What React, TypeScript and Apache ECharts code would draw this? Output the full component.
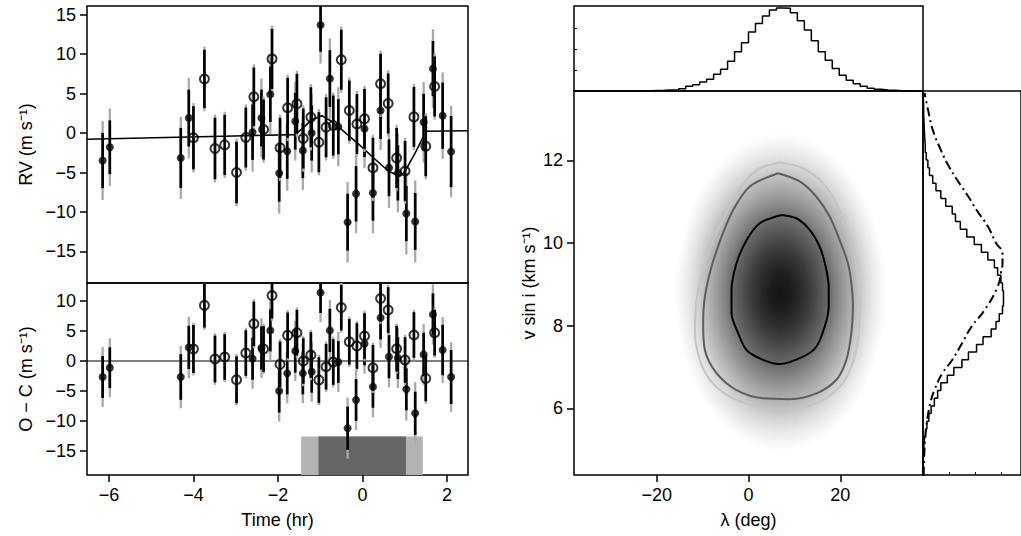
import React, { useEffect, useRef } from "react";
import * as echarts from "echarts";

// ---------- Left panels: RV time series ----------
const filledTime = [-6.15, -5.98, -4.3, -4.11, -2.6, -2.39, -2.18, -1.97, -1.78, -1.59, -1.41, -1.2, -0.99, -0.77, -0.57, -0.35, -0.15, 0.05, 0.25, 0.43, 0.63, 0.84, 1.04, 1.25, 1.45, 1.67, 1.9, 2.1];
const filledRV = [-3.48, -1.8, -3.15, 1.9, 0.1, 1.9, 4.9, -5.1, -2.3, 1.5, -2.2, 0.0, 13.7, 6.9, 0.8, -11.3, -7.7, 0.55, -7.6, 2.85, -4.4, -5.05, -10.2, -11.2, 1.37, 8.16, 2.2, -2.35];
const filledOC = [-2.67, -1.12, -2.67, 2.27, 0.38, 2.17, 5.1, -5.0, -2.06, 1.67, -2.06, -1.78, 11.4, 5.1, -0.17, -11.2, -6.5, 2.88, -4.28, 7.2, 0.72, 0.5, -4.72, -8.72, 1.1, 7.77, 1.83, -2.67];
const filledErrIn = [3.5, 3.4, 3.8, 3.6, 3.5, 3.6, 3.5, 3.6, 3.5, 3.6, 3.5, 3.5, 3.4, 3.6, 3.5, 3.6, 3.5, 3.6, 3.5, 3.6, 3.6, 3.5, 3.5, 3.6, 3.6, 3.5, 4.2, 4.5];
const filledErrOut = [5.0, 4.9, 5.2, 5.1, 5.0, 5.0, 5.0, 5.1, 5.0, 5.0, 5.0, 5.0, 4.9, 5.1, 5.0, 5.1, 5.0, 5.0, 5.1, 5.0, 5.1, 5.0, 5.2, 5.2, 5.1, 5.0, 5.5, 5.8];

const openTime = [-4.0, -3.74, -3.49, -3.26, -2.98, -2.76, -2.57, -2.34, -2.14, -1.95, -1.77, -1.55, -1.4, -1.22, -1.03, -0.86, -0.69, -0.5, -0.31, -0.13, 0.05, 0.25, 0.43, 0.61, 0.81, 1.01, 1.22, 1.5, 1.71];
const openRV = [-0.6, 6.85, -1.95, -1.5, -5.0, -0.57, 4.6, 0.45, 9.4, -1.87, 3.2, 3.7, -0.7, 2.0, -1.16, 0.73, 0.95, 9.3, 2.85, 1.15, 1.8, -4.4, 6.25, 3.75, -3.15, -4.8, 2.05, -1.67, 5.9];
const openOC = [2.0, 9.27, 0.33, 0.67, -3.12, 1.33, 6.2, 2.0, 10.9, -0.56, 4.27, 4.72, 0.0, 1.0, -3.17, -0.95, -0.17, 8.9, 3.2, 2.5, 4.17, -1.12, 10.4, 8.5, 2.05, 0.17, 4.33, -2.9, 4.72];
const openErrIn = [4.0, 3.7, 3.9, 3.8, 3.9, 3.8, 3.7, 3.8, 3.8, 3.8, 3.8, 3.8, 3.8, 3.8, 3.8, 3.8, 3.8, 3.8, 3.8, 3.8, 3.8, 3.8, 3.8, 3.8, 3.8, 3.8, 3.8, 3.8, 3.8];
const openErrOut = [4.4, 4.1, 4.3, 4.2, 4.3, 4.2, 4.1, 4.2, 4.2, 4.2, 4.2, 4.2, 4.2, 4.2, 4.2, 4.2, 4.2, 4.2, 4.2, 4.2, 4.2, 4.2, 4.2, 4.2, 4.2, 4.2, 4.2, 4.2, 4.2];

const modelTime = [-6.52, -1.6, -1.4, -1.2, -0.96, -0.77, -0.57, -0.29, -0.05, 0.22, 0.62, 0.89, 1.01, 1.25, 1.45, 1.5, 2.5];
const modelRV = [-0.78, -0.2, 0.66, 1.7, 2.2, 1.62, 0.8, -0.48, -1.6, -2.94, -4.84, -5.47, -4.84, -2.5, -0.4, 0.23, 0.3];

const transitTotal = [-1.45, 1.43];
const transitFull = [-1.04, 1.03];
const transitBoxTop = -12.6;

const timeRange = [-6.52, 2.5];
const rvRange = [-19, 16.1];
const ocRange = [-19, 13];
const timeTicks = [-6, -4, -2, 0, 2];
const rvTicks = [-15, -10, -5, 0, 5, 10, 15];
const ocTicks = [-15, -10, -5, 0, 5, 10];

// ---------- Right panels: posterior ----------
const lambdaRange = [-38, 38];
const vsiniRange = [4.385, 13.68];
const lambdaTicks = [-20, 0, 20];
const vsiniTicks = [6, 8, 10, 12];
const lambdaCountRange = [0, 2540];
const lambdaCountTicks = [628, 1256, 1884];
const vsiniCountRange = [0, 3020];
const vsiniCountTicks = [800, 1600, 2400];

// counts per lambda bin (left to right)
const lambdaCounts = [0, 0, 0, 0, 0, 0, 0, 0, 0, 5, 10, 15, 20, 30, 40, 70, 140, 190, 270, 350, 500, 650, 890, 1170, 1440, 1760, 2020, 2240, 2420, 2480, 2470, 2340, 2100, 1820, 1500, 1170, 920, 670, 470, 320, 220, 140, 80, 50, 30, 20, 10, 5, 2, 0];
// counts per v sin i bin (bottom to top)
const vsiniCounts = [5, 10, 20, 30, 50, 80, 120, 180, 250, 350, 450, 550, 750, 950, 1200, 1400, 1650, 1850, 2100, 2250, 2350, 2450, 2480, 2480, 2450, 2400, 2300, 2200, 2000, 1800, 1580, 1350, 1150, 1000, 900, 700, 550, 400, 300, 200, 150, 100, 70, 50, 40, 30, 20, 20, 10, 10];

const priorVsini = [4.37, 5.07, 5.55, 5.96, 6.2, 6.44, 6.85, 7.17, 7.57, 7.98, 8.38, 8.94, 9.27, 9.51, 9.75, 10.0, 10.4, 10.8, 11.12, 11.53, 11.85, 12.25, 12.74, 13.06, 13.63];
const priorDensity = [20, 50, 100, 180, 250, 350, 600, 900, 1200, 1500, 1900, 2300, 2400, 2450, 2450, 2250, 2000, 1650, 1400, 1050, 800, 550, 300, 200, 50];

const densityPeak = [7, 8.8];
const densitySpread = [23, 3.85];

const contourInner = [[7.17, 10.68], [10.43, 10.6], [13.33, 10.32], [15.5, 9.91], [16.8, 9.43], [17.46, 8.94], [17.46, 8.46], [16.6, 7.98], [14.78, 7.49], [11.88, 7.25], [6.8, 7.07], [3.17, 7.17], [-0.43, 7.41], [-2.26, 7.82], [-3.7, 8.3], [-3.7, 8.86], [-2.6, 9.51], [-0.43, 10.07], [2.46, 10.48], [7.17, 10.68]];
const contourMiddle = [[6.43, 11.69], [11.15, 11.49], [14.78, 11.12], [17.67, 10.64], [19.85, 10.07], [21.65, 9.51], [22.39, 9.03], [22.74, 8.46], [22.39, 7.82], [21.3, 7.17], [19.13, 6.69], [14.78, 6.36], [8.98, 6.22], [3.17, 6.24], [-2.61, 6.44], [-6.96, 6.85], [-9.5, 7.41], [-9.87, 8.06], [-9.5, 8.7], [-8.04, 9.43], [-5.87, 10.15], [-3.35, 10.8], [0.28, 11.37], [6.43, 11.69]];
const contourOuter = [[6.8, 11.95], [11.87, 11.81], [16.22, 11.45], [19.13, 10.96], [21.3, 10.4], [22.74, 9.83], [23.83, 9.11], [24.2, 8.46], [23.83, 7.65], [22.39, 7.01], [19.85, 6.52], [14.78, 6.12], [7.52, 5.98], [1.74, 6.04], [-4.07, 6.28], [-8.41, 6.69], [-10.59, 7.17], [-11.67, 7.82], [-11.3, 8.62], [-9.87, 9.35], [-7.33, 10.15], [-4.07, 10.88], [-0.43, 11.53], [2.46, 11.81], [6.8, 11.95]];

const FONT = "'Liberation Sans', Arial, Helvetica, sans-serif";
const fmt = (v: number) => (v < 0 ? "\u2212" + Math.abs(v) : String(v));

function stepPoints(range: number[], counts: number[], horizontal: boolean) {
  const w = (range[1] - range[0]) / counts.length;
  const pts: number[][] = [];
  counts.forEach((c, i) => {
    const a = range[0] + i * w;
    const b = a + w;
    if (horizontal) {
      pts.push([c, a], [c, b]);
    } else {
      pts.push([a, c], [b, c]);
    }
  });
  return pts;
}

function axis(gridIndex: number, range: number[], ticks: number[] | null, extra: any = {}) {
  return {
    type: "value",
    gridIndex,
    min: range[0],
    max: range[1],
    splitLine: { show: false },
    axisLine: { show: false, onZero: false },
    axisTick: ticks
      ? { show: true, length: 7, customValues: ticks, lineStyle: { color: "#000", width: 1.5 } }
      : { show: false },
    axisLabel: ticks
      ? { show: true, customValues: ticks, formatter: fmt, fontFamily: FONT, fontSize: 18, color: "#000", margin: 11 }
      : { show: false },
    nameTextStyle: { fontFamily: FONT, fontSize: 18, color: "#000" },
    nameLocation: "middle",
    ...extra,
  };
}

function tinyTickAxis(gridIndex: number, range: number[], ticks: number[]) {
  return {
    type: "value",
    gridIndex,
    min: range[0],
    max: range[1],
    splitLine: { show: false },
    axisLine: { show: false, onZero: false },
    axisTick: { show: true, inside: true, length: 3, customValues: ticks, lineStyle: { color: "#000", width: 1 } },
    axisLabel: { show: false },
  };
}

function errorBarSeries(xAxisIndex: number, yAxisIndex: number, t: number[], v: number[], eIn: number[], eOut: number[]) {
  return {
    type: "custom",
    xAxisIndex,
    yAxisIndex,
    clip: true,
    z: 3,
    data: t.map((x, i) => [x, v[i], eIn[i], eOut[i]]),
    encode: { x: 0, y: 1 },
    renderItem: (params: any, api: any) => {
      const x = api.value(0);
      const y = api.value(1);
      const ei = api.value(2);
      const eo = api.value(3);
      const o1 = api.coord([x, y + eo]);
      const o2 = api.coord([x, y - eo]);
      const i1 = api.coord([x, y + ei]);
      const i2 = api.coord([x, y - ei]);
      return {
        type: "group",
        children: [
          { type: "line", shape: { x1: o1[0], y1: o1[1], x2: o2[0], y2: o2[1] }, style: { stroke: "#a9a9a9", lineWidth: 2.3 } },
          { type: "line", shape: { x1: i1[0], y1: i1[1], x2: i2[0], y2: i2[1] }, style: { stroke: "#000", lineWidth: 2.7 } },
        ],
      };
    },
  };
}

function pointSeries(xAxisIndex: number, yAxisIndex: number, t: number[], v: number[], open: boolean) {
  return {
    type: "scatter",
    xAxisIndex,
    yAxisIndex,
    z: 4,
    symbol: "circle",
    symbolSize: open ? 9 : 8,
    itemStyle: open
      ? { color: "rgba(0,0,0,0)", borderColor: "#000", borderWidth: 2 }
      : { color: "#000" },
    data: t.map((x, i) => [x, v[i]]),
  };
}

function boxSeries(range: number[], top: number, color: string) {
  return {
    type: "custom",
    xAxisIndex: 1,
    yAxisIndex: 1,
    z: 1,
    clip: true,
    data: [[range[0], ocRange[0], range[1], top]],
    encode: { x: [0, 2], y: [1, 3] },
    renderItem: (params: any, api: any) => {
      const p1 = api.coord([api.value(0), api.value(3)]);
      const p2 = api.coord([api.value(2), api.value(1)]);
      return {
        type: "rect",
        shape: { x: p1[0], y: p1[1], width: p2[0] - p1[0], height: p2[1] - p1[1] },
        style: { fill: color },
      };
    },
  };
}

function contourSeries(data: number[][], color: string) {
  return {
    type: "line",
    xAxisIndex: 3,
    yAxisIndex: 3,
    z: 2,
    showSymbol: false,
    symbol: "none",
    smooth: 0.3,
    lineStyle: { color, width: 2 },
    data,
  };
}

export default function App() {
  const ref = useRef<HTMLDivElement>(null);
  useEffect(() => {
    if (!ref.current) return;
    const chart = echarts.init(ref.current, null, { renderer: "svg" });
    const gridStyle = { show: true, borderColor: "#000", borderWidth: 1.5, backgroundColor: "rgba(0,0,0,0)", containLabel: false };
    const option: any = {
      animation: false,
      backgroundColor: "#fff",
      grid: [
        { ...gridStyle, left: 87, top: 6, width: 381, height: 277 },
        { ...gridStyle, left: 87, top: 283, width: 381, height: 192 },
        { ...gridStyle, left: 574, top: 6, width: 349, height: 85 },
        { ...gridStyle, left: 574, top: 91, width: 349, height: 384 },
        { ...gridStyle, left: 923, top: 91, width: 101, height: 384 },
      ],
      xAxis: [
        axis(0, timeRange, null),
        axis(1, timeRange, timeTicks, { name: "Time (hr)", nameGap: 36 }),
        axis(2, lambdaRange, null),
        axis(3, lambdaRange, lambdaTicks, { name: "λ (deg)", nameGap: 36 }),
        tinyTickAxis(4, vsiniCountRange, vsiniCountTicks),
      ],
      yAxis: [
        axis(0, rvRange, rvTicks, { name: "RV (m s\u207B\u00B9)", nameGap: 52 }),
        axis(1, ocRange, ocTicks, { name: "O \u2212 C (m s\u207B\u00B9)", nameGap: 52 }),
        tinyTickAxis(2, lambdaCountRange, lambdaCountTicks),
        axis(3, vsiniRange, vsiniTicks, { name: "v sin i (km s\u207B\u00B9)", nameGap: 36 }),
        axis(4, vsiniRange, null),
      ],
      series: [
        {
          type: "line",
          xAxisIndex: 0,
          yAxisIndex: 0,
          z: 2,
          showSymbol: false,
          symbol: "none",
          lineStyle: { color: "#000", width: 1.6 },
          data: modelTime.map((t, i) => [t, modelRV[i]]),
        },
        errorBarSeries(0, 0, filledTime, filledRV, filledErrIn, filledErrOut),
        errorBarSeries(0, 0, openTime, openRV, openErrIn, openErrOut),
        pointSeries(0, 0, filledTime, filledRV, false),
        pointSeries(0, 0, openTime, openRV, true),
        boxSeries(transitTotal, transitBoxTop, "#b3b3b3"),
        boxSeries(transitFull, transitBoxTop, "#666666"),
        {
          type: "line",
          xAxisIndex: 1,
          yAxisIndex: 1,
          z: 2,
          showSymbol: false,
          symbol: "none",
          lineStyle: { color: "#000", width: 1 },
          data: [[timeRange[0], 0], [timeRange[1], 0]],
        },
        errorBarSeries(1, 1, filledTime, filledOC, filledErrIn, filledErrOut),
        errorBarSeries(1, 1, openTime, openOC, openErrIn, openErrOut),
        pointSeries(1, 1, filledTime, filledOC, false),
        pointSeries(1, 1, openTime, openOC, true),
        {
          type: "line",
          xAxisIndex: 2,
          yAxisIndex: 2,
          showSymbol: false,
          symbol: "none",
          lineStyle: { color: "#000", width: 1.5 },
          data: stepPoints(lambdaRange, lambdaCounts, false),
        },
        {
          type: "custom",
          xAxisIndex: 3,
          yAxisIndex: 3,
          z: 1,
          clip: true,
          data: [[densityPeak[0], densityPeak[1], densitySpread[0], densitySpread[1]]],
          encode: { x: 0, y: 1 },
          renderItem: (params: any, api: any) => {
            const c = api.coord([api.value(0), api.value(1)]);
            const s = api.size([api.value(2), api.value(3)]);
            return {
              type: "ellipse",
              shape: { cx: c[0], cy: c[1], rx: s[0], ry: s[1] },
              style: {
                fill: new echarts.graphic.RadialGradient(0.5, 0.5, 0.5, [
                  { offset: 0, color: "#151515" },
                  { offset: 0.1, color: "#1c1c1c" },
                  { offset: 0.2, color: "#2c2c2c" },
                  { offset: 0.3, color: "#414141" },
                  { offset: 0.4, color: "#5b5b5b" },
                  { offset: 0.47, color: "#6f6f6f" },
                  { offset: 0.55, color: "#8a8a8a" },
                  { offset: 0.65, color: "#a9a9a9" },
                  { offset: 0.74, color: "#c3c3c3" },
                  { offset: 0.8, color: "#d6d6d6" },
                  { offset: 0.88, color: "#eaeaea" },
                  { offset: 0.95, color: "#f7f7f7" },
                  { offset: 1, color: "#ffffff" },
                ]),
              },
            };
          },
        },
        contourSeries(contourOuter, "#c4c4c4"),
        contourSeries(contourMiddle, "#5e5e5e"),
        contourSeries(contourInner, "#000"),
        {
          type: "line",
          xAxisIndex: 4,
          yAxisIndex: 4,
          showSymbol: false,
          symbol: "none",
          lineStyle: { color: "#000", width: 1.5 },
          data: stepPoints(vsiniRange, vsiniCounts, true),
        },
        {
          type: "line",
          xAxisIndex: 4,
          yAxisIndex: 4,
          showSymbol: false,
          symbol: "none",
          smooth: true,
          lineStyle: { color: "#000", width: 2, type: [9, 4, 2, 4] },
          data: priorVsini.map((v, i) => [priorDensity[i], v]),
        },
      ],
    };
    chart.setOption(option);
    return () => chart.dispose();
  }, []);
  return <div ref={ref} style={{ position: "absolute", left: 0, top: 0, width: 1021, height: 536 }} />;
}
